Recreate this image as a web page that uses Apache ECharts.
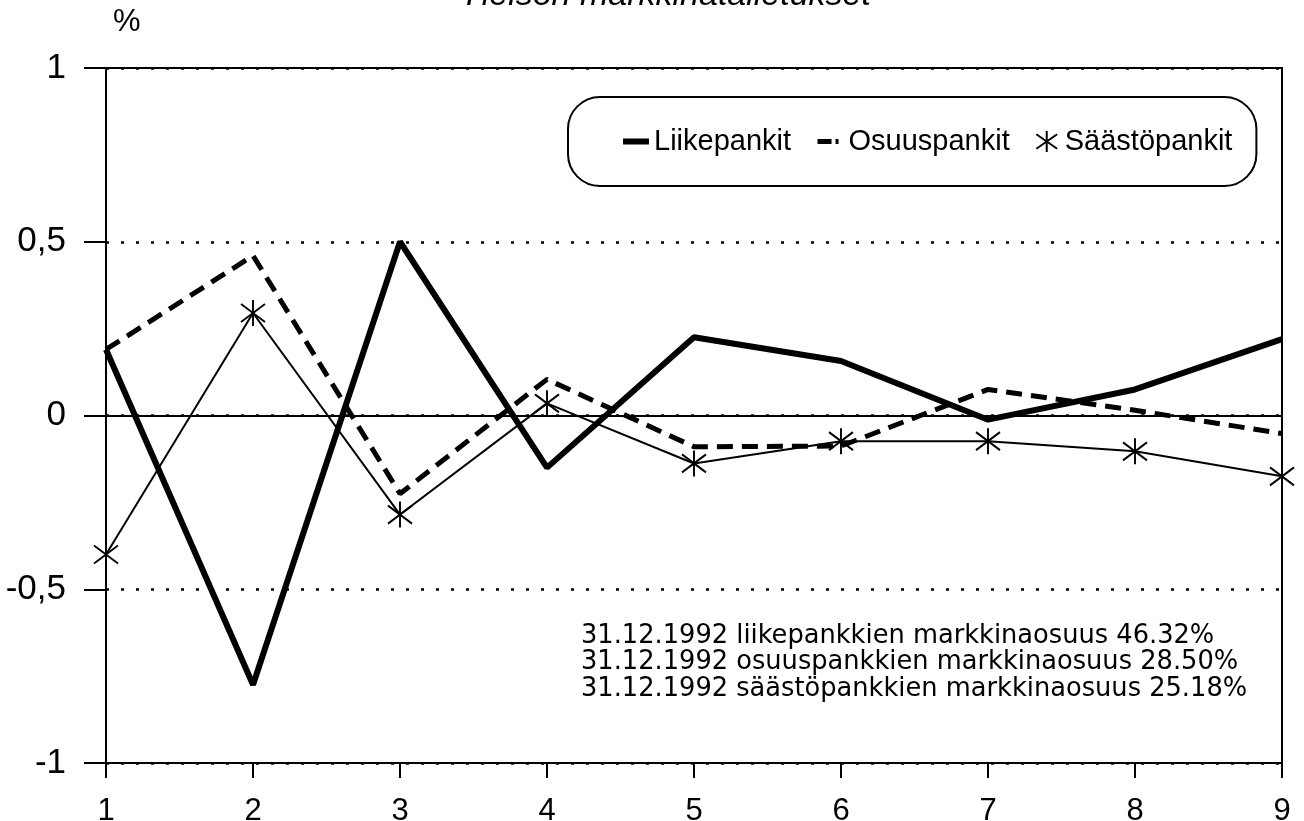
<!DOCTYPE html>
<html><head><meta charset="utf-8">
<script src="https://cdn.jsdelivr.net/npm/echarts@6/dist/echarts.min.js"></script>
<style>html,body{margin:0;padding:0;background:#fff}#c{width:1304px;height:821px}</style>
</head><body><div id="c"></div>
<script>
const titleText = 'Yleisön markkinatalletukset';
const yUnit = '%';
const categories = ['1', '2', '3', '4', '5', '6', '7', '8', '9'];
const seriesNames = ['Liikepankit', 'Osuuspankit', 'Säästöpankit'];
const liikepankit = [0.19, -0.775, 0.5, -0.15, 0.225, 0.157, -0.012, 0.075, 0.22];
const osuuspankit = [0.19, 0.46, -0.225, 0.104, -0.09, -0.088, 0.075, 0.015, -0.052];
const saastopankit = [-0.40, 0.295, -0.285, 0.035, -0.138, -0.074, -0.074, -0.103, -0.175];
const yMin = -1, yMax = 1, yInterval = 0.5;
const noteLines = [
  '31.12.1992 liikepankkien markkinaosuus 46.32%',
  '31.12.1992 osuuspankkien markkinaosuus 28.50%',
  '31.12.1992 säästöpankkien markkinaosuus 25.18%'
];

const FONT = "'Liberation Sans', Arial, Helvetica, sans-serif";
const starPath = 'path://M12,0V26M0,4L24,22M0,22L24,4';

const chart = echarts.init(document.getElementById('c'), null, {renderer: 'canvas'});
chart.setOption({
  animation: false,
  backgroundColor: '#fff',
  title: {
    text: titleText,
    left: 459,
    top: -21,
    padding: 0,
    textStyle: {fontFamily: FONT, fontStyle: 'italic', fontWeight: 'normal', fontSize: 34, color: '#000'}
  },
  legend: {
    left: 568,
    top: 97,
    padding: [30, 24, 30, 52],
    itemGap: 24,
    itemWidth: 26,
    itemHeight: 26,
    borderColor: '#000',
    borderWidth: 2,
    borderRadius: 32,
    textStyle: {fontFamily: FONT, fontSize: 29, color: '#000'},
    data: [
      {name: seriesNames[0], itemStyle: {color: 'rgba(0,0,0,0)', borderWidth: 0, opacity: 0}, lineStyle: {width: 6, color: '#000'}},
      {name: seriesNames[1], itemStyle: {color: 'rgba(0,0,0,0)', borderWidth: 0, opacity: 0}, lineStyle: {type: [14, 4, 3, 5], width: 5, color: '#000'}},
      {name: seriesNames[2], lineStyle: {width: 0, color: 'rgba(0,0,0,0)'}}
    ]
  },
  grid: {left: 106, right: 22, top: 68, bottom: 58, show: true, borderColor: '#000', borderWidth: 2, containLabel: false, outerBoundsMode: 'none'},
  xAxis: {
    type: 'category',
    data: categories,
    boundaryGap: false,
    axisLine: {onZero: false, lineStyle: {color: '#000', width: 2}},
    axisTick: {inside: false, length: 15, lineStyle: {color: '#000', width: 2}},
    axisLabel: {margin: 33, fontFamily: FONT, fontSize: 31, color: '#000'},
    splitLine: {show: false}
  },
  yAxis: {
    type: 'value',
    min: yMin, max: yMax, interval: yInterval,
    name: yUnit,
    nameLocation: 'end',
    nameGap: 30,
    nameTextStyle: {fontFamily: FONT, fontSize: 31, color: '#000', align: 'left', padding: [0, 0, 0, 7]},
    axisLine: {show: true, lineStyle: {color: '#000', width: 2}},
    axisTick: {show: true, inside: false, length: 22, lineStyle: {color: '#000', width: 2}},
    axisLabel: {margin: 40, fontFamily: FONT, fontSize: 35, color: '#000',
      formatter: v => String(v).replace('.', ',')},
    splitLine: {show: true, lineStyle: {color: '#000', width: 2.5, type: [3, 12]}}
  },
  graphic: [{
    type: 'text',
    left: 581,
    top: 623,
    style: {text: noteLines.join('\n'), font: "25.7px 'DejaVu Sans'", lineHeight: 26.5, fill: '#000'}
  }],
  series: [
    {
      name: seriesNames[0], type: 'line', data: liikepankit,
      symbol: 'none', lineStyle: {color: '#000', width: 6}, itemStyle: {color: '#000'},
      z: 4,
      markLine: {
        silent: true, symbol: ['none', 'none'], label: {show: false},
        lineStyle: {color: '#000', width: 2, type: 'solid'},
        data: [{yAxis: 0}], z: 1
      }
    },
    {
      name: seriesNames[1], type: 'line', data: osuuspankit,
      symbol: 'none', lineStyle: {color: '#000', width: 5, type: [16, 9]}, itemStyle: {color: '#000'},
      z: 3
    },
    {
      name: seriesNames[2], type: 'line', data: saastopankit,
      symbol: starPath, symbolSize: [24, 26], showSymbol: true,
      lineStyle: {color: '#000', width: 2},
      itemStyle: {color: 'rgba(0,0,0,0)', borderColor: '#000', borderWidth: 2},
      z: 5
    }
  ]
});
</script>
</body></html>
